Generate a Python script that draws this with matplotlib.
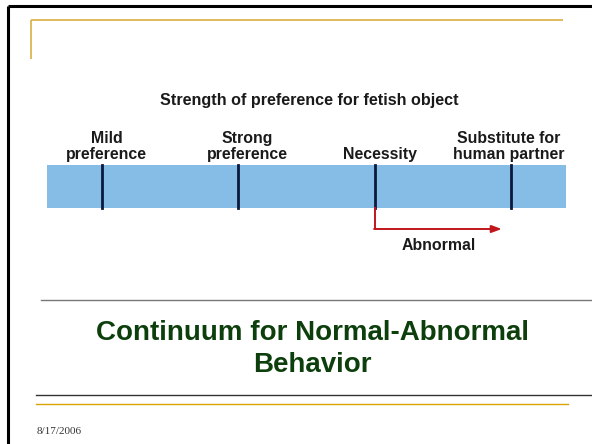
import matplotlib.pyplot as plt

# continuum data
stages = ['Mild\npreference', 'Strong\npreference', 'Necessity', 'Substitute for\nhuman partner']
stage_pos = [0, 1, 2, 3]
abnormal_start = 2
abnormal_end = 2.93
scale_title = 'Strength of preference for fetish object'
slide_title = 'Continuum for Normal-Abnormal\nBehavior'
date_text = '8/17/2006'

W, H = 592, 444
fig = plt.figure(figsize=(W / 100, H / 100), dpi=100)
plt.rcParams['font.family'] = ['Liberation Sans', 'DejaVu Sans']

# slide background, pixel coordinates
bg = fig.add_axes([0, 0, 1, 1])
bg.set_xlim(0, W)
bg.set_ylim(H, 0)
bg.axis('off')

gold = '#dcb54f'
bg.plot([7.5, W], [6, 6], color='black', lw=2.2, solid_capstyle='butt')
bg.plot([8, 8], [6, H], color='black', lw=2.2, solid_capstyle='butt')
bg.plot([31, 563], [20, 20], color=gold, lw=1.3, solid_capstyle='butt')
bg.plot([31, 31], [20, 59], color=gold, lw=1.3, solid_capstyle='butt')
bg.plot([41, W], [300, 300], color='#777777', lw=1.0)
bg.plot([36, W], [395, 395], color='#333333', lw=1.0)
bg.plot([36, 568], [404, 404], color='#d9a300', lw=1.0)

bg.text(309, 100, scale_title, ha='center', va='center', fontsize=11.6,
        fontweight='bold', color='#1a1a1a')
bg.text(312, 349, slide_title, ha='center', va='center', fontsize=20,
        fontweight='bold', color='#0d3f0d', linespacing=1.3)
bg.text(37, 431, date_text, ha='left', va='center', fontsize=8,
        family=['Liberation Serif', 'DejaVu Serif'], color='#333333')

# continuum diagram
y_top, y_bot = 120, 262
ax = fig.add_axes([47 / W, (H - y_bot) / H, 519 / W, (y_bot - y_top) / H])
ax.set_xlim(-0.4, 3.4)
ax.set_ylim(y_bot, y_top)
ax.axis('off')

ax.axvspan(-0.4, 3.4, ymin=(y_bot - 208) / (y_bot - y_top),
           ymax=(y_bot - 165) / (y_bot - y_top), color='#86bde6', lw=0)
label_shift = [0.035, 0.065, 0.035, -0.02]
for x, lab, dx in zip(stage_pos, stages, label_shift):
    ax.plot([x, x], [165, 208], color='#0b1a3d', lw=2.0)
    ax.text(x + dx, 159, lab, ha='center', va='baseline', fontsize=11.4,
            fontweight='bold', color='#1a1a1a', linespacing=1.05)

red = '#c0161c'
ax.plot([abnormal_start, abnormal_start], [208, 229], color=red, lw=1.4)
ax.annotate('', xy=(abnormal_end, 229), xytext=(abnormal_start - 0.005, 229),
            arrowprops=dict(arrowstyle='-|>,head_length=0.6,head_width=0.22',
                            color=red, lw=1.4, shrinkA=0, shrinkB=0))
ax.text((abnormal_start + abnormal_end) / 2, 250, 'Abnormal', ha='center',
        va='baseline', fontsize=11.4, fontweight='bold', color='#1a1a1a')

fig.savefig('out.png', dpi=100)
